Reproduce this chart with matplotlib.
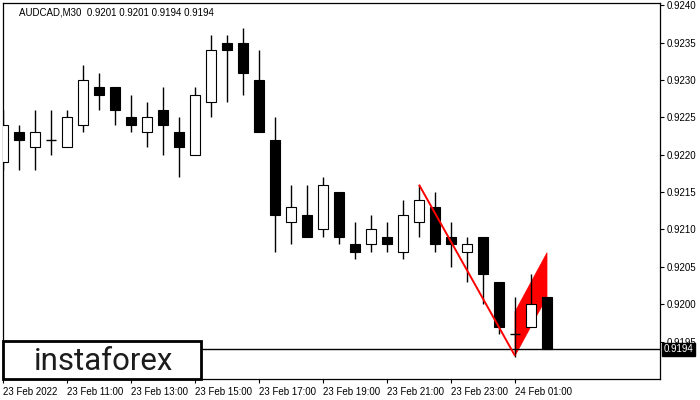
import matplotlib
matplotlib.use("Agg")
import matplotlib.pyplot as plt
from matplotlib.patches import Rectangle, Polygon

# AUDCAD M30 candles, 23 Feb 2022 09:00 .. 24 Feb 02:00
opens = [0.9219, 0.9223, 0.9221, 0.9222, 0.9221, 0.9224, 0.9229, 0.9229, 0.9225, 0.9223,
         0.9226, 0.9223, 0.9220, 0.9227, 0.9235, 0.9235, 0.9230, 0.9222, 0.9211, 0.9212,
         0.9210, 0.9215, 0.9208, 0.9208, 0.9209, 0.9207, 0.9211, 0.9213, 0.9209, 0.9207,
         0.9209, 0.9203, 0.9196, 0.9197, 0.9201]
highs = [0.9226, 0.9224, 0.9226, 0.9226, 0.9226, 0.9232, 0.9231, 0.9229, 0.9228, 0.9227,
         0.9229, 0.9225, 0.9229, 0.9236, 0.9236, 0.9237, 0.9234, 0.9225, 0.9216, 0.9216,
         0.9217, 0.9215, 0.9211, 0.9212, 0.9211, 0.9214, 0.9216, 0.9215, 0.9211, 0.9209,
         0.9209, 0.9203, 0.9201, 0.9204, 0.9201]
lows = [0.9218, 0.9218, 0.9218, 0.9220, 0.9221, 0.9223, 0.9226, 0.9224, 0.9223, 0.9221,
        0.9220, 0.9217, 0.9220, 0.9225, 0.9227, 0.9228, 0.9223, 0.9207, 0.9208, 0.9209,
        0.9209, 0.9208, 0.9206, 0.9207, 0.9207, 0.9206, 0.9209, 0.9207, 0.9205, 0.9203,
        0.9200, 0.9196, 0.9193, 0.9197, 0.9194]
closes = [0.9224, 0.9222, 0.9223, 0.9222, 0.9225, 0.9230, 0.9228, 0.9226, 0.9224, 0.9225,
          0.9224, 0.9221, 0.9228, 0.9234, 0.9234, 0.9231, 0.9223, 0.9212, 0.9213, 0.9209,
          0.9216, 0.9209, 0.9207, 0.9210, 0.9208, 0.9212, 0.9214, 0.9208, 0.9208, 0.9208,
          0.9204, 0.9197, 0.9196, 0.9200, 0.9194]

time_ticks = [0, 4, 8, 12, 16, 20, 24, 28, 32]
time_labels = ["23 Feb 2022", "23 Feb 11:00", "23 Feb 13:00", "23 Feb 15:00", "23 Feb 17:00",
               "23 Feb 19:00", "23 Feb 21:00", "23 Feb 23:00", "24 Feb 01:00"]
price_ticks = [0.9195, 0.9200, 0.9205, 0.9210, 0.9215, 0.9220, 0.9225, 0.9230, 0.9235, 0.9240]

# bearish flag: pole from high of bar 26 to low of bar 32, flag over bars 32..34
pole_x = [26, 32]
pole_y = [0.92160, 0.91931]
flag_x = [32, 32, 34, 34]
flag_y = [0.91931, 0.91990, 0.92069, 0.92010]

last_price = 0.9194
title = "AUDCAD,M30  0.9201 0.9201 0.9194 0.9194"

FONT = "Liberation Sans"
W, H = 700, 400
fig = plt.figure(figsize=(7, 4), dpi=100)
ax = fig.add_axes([2.5 / W, 21 / H, 657 / W, 376 / H])
ax.set_xlim(-0.03, 41.03)
ax.set_ylim(0.91900, 0.92403)

# flag body under the candles
ax.add_patch(Polygon(list(zip(flag_x, flag_y)), closed=True, facecolor="red",
                     edgecolor="red", lw=0.5, zorder=1))

ax.axhline(last_price, color="black", lw=1.0, zorder=1.5)

bw = 0.64
for i in range(len(opens)):
    o, h, l, c = opens[i], highs[i], lows[i], closes[i]
    ax.vlines(i, l, h, color="black", lw=1.0, zorder=2)
    if o == c:
        ax.hlines(o, i - bw / 2, i + bw / 2, color="black", lw=1.0, zorder=3)
    else:
        fc = "white" if c > o else "black"
        ax.add_patch(Rectangle((i - bw / 2, min(o, c)), bw, abs(c - o), facecolor=fc,
                               edgecolor="black", lw=0.8, zorder=3))

ax.plot(pole_x, pole_y, color="red", lw=1.4, zorder=4, solid_capstyle="butt")

# axes look
for s in ax.spines.values():
    s.set_linewidth(0.9)
ax.yaxis.tick_right()
ax.set_yticks(price_ticks)
ax.set_yticklabels([f"{p:.4f}" for p in price_ticks], fontsize=7, family=FONT)
ax.set_xticks(time_ticks)
ax.set_xticklabels(time_labels, fontsize=7, family=FONT, ha="left")
ax.tick_params(axis="both", length=3, width=0.8, direction="out", pad=2)
ax.tick_params(axis="x", pad=3)

ax.text(0.025, 0.988, title, transform=ax.transAxes, fontsize=7, family=FONT,
        va="top", ha="left")

# current price marker on the scale
ax.annotate(f"{last_price:.4f}", xy=(1.0, last_price), xycoords=("axes fraction", "data"),
            xytext=(3, 0), textcoords="offset points", fontsize=7, family=FONT,
            color="white", va="center", ha="left",
            bbox=dict(boxstyle="square,pad=0.15", fc="black", ec="black"), zorder=10,
            annotation_clip=False)

# logo box
ax.add_patch(Rectangle((0.0003, 0.0), 198.5 / 657, 38.3 / 376, transform=ax.transAxes,
                       facecolor="white", edgecolor="black", lw=2.0, zorder=8, clip_on=False))
ax.text(101 / 657, 17 / 376, "instaforex", transform=ax.transAxes, fontsize=22.5,
        family="Roboto", color="#1c1c1c", ha="center", va="center", zorder=9)

fig.savefig("out.png", dpi=100)
